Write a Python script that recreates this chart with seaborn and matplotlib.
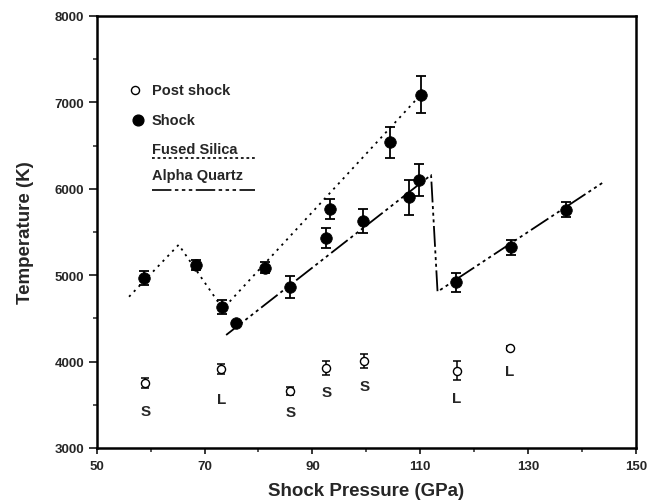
import numpy as np
import pandas as pd
import matplotlib
matplotlib.use("Agg")
import matplotlib.pyplot as plt
from matplotlib.ticker import MultipleLocator
import seaborn as sns

# ---------------- data ----------------
shock_p = [58.8, 68.4, 73.2, 75.8, 81.2, 85.9, 92.6, 93.3, 99.4, 104.4, 107.9, 109.8, 110.1, 116.6, 126.8, 137.0]
shock_t = [4968, 5118, 4628, 4443, 5087, 4863, 5431, 5766, 5631, 6540, 5902, 6102, 7089, 4918, 5323, 5758]
shock_err = [86, 55, 80, 20, 65, 128, 118, 118, 140, 180, 200, 185, 215, 110, 88, 90]

post_p = [59.0, 73.1, 85.9, 92.6, 99.6, 116.8, 126.6]
post_t = [3752, 3914, 3663, 3926, 4010, 3895, 4157]
post_err = [55, 55, 45, 80, 80, 110, 25]
post_phase = ["S", "L", "S", "S", "S", "L", "L"]
phase_label_drop = [325, 347, 246, 278, 292, 316, 266]

silica_p = [56.0, 65.2, 73.4, 110.1]
silica_t = [4751, 5352, 4610, 7090]

quartz_p = [74.0, 112.0, 113.2, 144.1]
quartz_t = [4308, 6160, 4809, 6082]

x_ticks = [50, 70, 90, 110, 130, 150]
y_ticks = [3000, 4000, 5000, 6000, 7000, 8000]

# ---------------- style ----------------
sns.set_style("ticks")
plt.rcParams["font.family"] = ["Liberation Sans", "DejaVu Sans"]
plt.rcParams["font.weight"] = "bold"
plt.rcParams["lines.scale_dashes"] = False

fig = plt.figure(figsize=(6.57, 5.02), dpi=100)
ax = fig.add_axes([96.7 / 657, 1 - 449 / 502, 539.3 / 657, 432 / 502])

silica_dash = (0, (1.6, 3.4))
quartz_dash = (0, (15, 2.6, 2.2, 2.6, 2.2, 2.6, 2.2, 2.6))

df_si = pd.DataFrame({"p": silica_p, "t": silica_t})
df_qz = pd.DataFrame({"p": quartz_p, "t": quartz_t})
sns.lineplot(data=df_si, x="p", y="t", sort=False, estimator=None, color="black",
             lw=1.3, linestyle=silica_dash, ax=ax)
sns.lineplot(data=df_qz, x="p", y="t", sort=False, estimator=None, color="black",
             lw=1.3, linestyle=quartz_dash, ax=ax)

# error bars
ax.errorbar(shock_p, shock_t, yerr=shock_err, fmt="none", ecolor="black",
            elinewidth=1.3, capsize=3.5, capthick=1.3, zorder=3)
ax.errorbar(post_p, post_t, yerr=post_err, fmt="none", ecolor="black",
            elinewidth=1.1, capsize=3.0, capthick=1.1, zorder=3)

df_sh = pd.DataFrame({"p": shock_p, "t": shock_t})
df_po = pd.DataFrame({"p": post_p, "t": post_t})
sns.scatterplot(data=df_sh, x="p", y="t", s=70, color="black", edgecolor="black",
                linewidth=0.5, zorder=4, ax=ax)
sns.scatterplot(data=df_po, x="p", y="t", s=34, facecolor="white", edgecolor="black",
                linewidth=1.0, zorder=4, ax=ax)

for p, t, lab, d in zip(post_p, post_t, post_phase, phase_label_drop):
    ax.text(p, t - d, lab, ha="center", va="center", fontsize=11, fontweight="bold")

# legend (drawn by hand, text underlined by line samples)
ax.scatter([0.071], [0.829], s=34, facecolor="white", edgecolor="black", lw=1.0,
           transform=ax.transAxes, clip_on=False, zorder=5)
ax.scatter([0.076], [0.760], s=60, color="black", transform=ax.transAxes,
           clip_on=False, zorder=5)
ax.text(0.1025, 0.829, "Post shock", transform=ax.transAxes, ha="left", va="center",
        fontsize=10.5, fontweight="bold")
ax.text(0.1025, 0.760, "Shock", transform=ax.transAxes, ha="left", va="center",
        fontsize=10.5, fontweight="bold")
ax.text(0.1025, 0.692, "Fused Silica", transform=ax.transAxes, ha="left", va="center",
        fontsize=10.5, fontweight="bold")
ax.text(0.1025, 0.632, "Alpha Quartz", transform=ax.transAxes, ha="left", va="center",
        fontsize=10.5, fontweight="bold")
ax.plot([0.1025, 0.294], [0.671, 0.671], transform=ax.transAxes, color="black",
        lw=1.2, linestyle=(0, (2.0, 2.0)))
ax.plot([0.1025, 0.294], [0.598, 0.598], transform=ax.transAxes, color="black",
        lw=1.2, linestyle=(0, (14, 2.5, 2.5, 2.5, 2.5, 2.5, 2.5, 2.5)))

# axes
ax.set_xlim(50, 150)
ax.set_ylim(3000, 8000)
ax.set_xticks(x_ticks)
ax.set_yticks(y_ticks)
ax.xaxis.set_minor_locator(MultipleLocator(10))
ax.yaxis.set_minor_locator(MultipleLocator(500))
ax.tick_params(axis="x", which="major", direction="out", length=4, width=1.3,
               labelsize=9.5, pad=5)
ax.tick_params(axis="x", which="minor", direction="out", length=3, width=1.1)
ax.tick_params(axis="y", which="major", direction="out", length=6, width=1.3,
               labelsize=9.5, pad=3)
ax.tick_params(axis="y", which="minor", direction="out", length=3, width=1.1)
for lab in ax.get_xticklabels() + ax.get_yticklabels():
    lab.set_fontweight("bold")
for sp in ax.spines.values():
    sp.set_visible(True)
    sp.set_linewidth(1.8)
    sp.set_color("black")

ax.set_xlabel("Shock Pressure (GPa)", fontsize=13.5, fontweight="bold", labelpad=7)
ax.set_ylabel("Temperature (K)", fontsize=13.5, fontweight="bold", labelpad=15)

fig.savefig("out.png", dpi=100)
